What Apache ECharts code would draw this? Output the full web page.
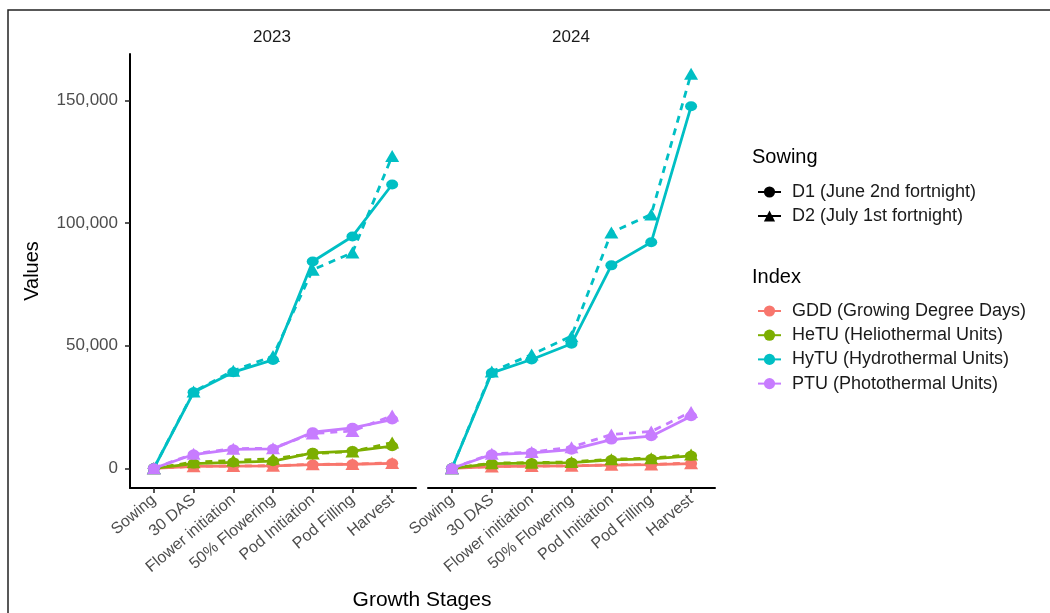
<!DOCTYPE html>
<html>
<head>
<meta charset="utf-8">
<script src="https://cdn.jsdelivr.net/npm/echarts@6/dist/echarts.min.js"></script>
<style>
html,body{margin:0;padding:0;background:#fff;}
#chart{width:1050px;height:613px;}
</style>
</head>
<body>
<div id="chart"></div>
<script>
// ---- Data ----
const stages = ['Sowing','30 DAS','Flower initiation','50% Flowering','Pod Initiation','Pod Filling','Harvest'];
const years = ['2023','2024'];
const sowingNames = ['D1 (June 2nd fortnight)','D2 (July 1st fortnight)'];
const indexNames = ['GDD (Growing Degree Days)','HeTU (Heliothermal Units)','HyTU (Hydrothermal Units)','PTU (Photothermal Units)'];
const yTicks = [0, 50000, 100000, 150000];

// 2023
const gdd2023D1  = [0, 750, 900, 1000, 1500, 1650, 2000];
const gdd2023D2  = [0, 800, 950, 1050, 1600, 1700, 2200];
const hetu2023D1 = [0, 1900, 2400, 2900, 6300, 7000, 9000];
const hetu2023D2 = [0, 2500, 3200, 3900, 6000, 6800, 10500];
const hytu2023D1 = [0, 31000, 39200, 44200, 84400, 94600, 115800];
const hytu2023D2 = [0, 31300, 39800, 45800, 81000, 88000, 127400];
const ptu2023D1  = [0, 5600, 7700, 7900, 14700, 16500, 19900];
const ptu2023D2  = [0, 5900, 8000, 8200, 14200, 15200, 21500];
// 2024
const gdd2024D1  = [0, 700, 850, 950, 1300, 1450, 1900];
const gdd2024D2  = [0, 750, 900, 1000, 1400, 1550, 2100];
const hetu2024D1 = [0, 1900, 2100, 2300, 3400, 3800, 5100];
const hetu2024D2 = [0, 2100, 2300, 2600, 3700, 4100, 5600];
const hytu2024D1 = [0, 38900, 44400, 50800, 82800, 92200, 147700];
const hytu2024D2 = [0, 39500, 46400, 53900, 96200, 103600, 161000];
const ptu2024D1  = [0, 5600, 6300, 7600, 11700, 13100, 21200];
const ptu2024D2  = [0, 5900, 6600, 8600, 13800, 15000, 23000];

// ---- Styles ----
const indexColors = ['#F8766D','#7CAE00','#00BFC4','#C77CFF'];
const FONT = '"Liberation Sans", Arial, Helvetica, sans-serif';

const table = {
  '2023': [[gdd2023D1, gdd2023D2],[hetu2023D1, hetu2023D2],[hytu2023D1, hytu2023D2],[ptu2023D1, ptu2023D2]],
  '2024': [[gdd2024D1, gdd2024D2],[hetu2024D1, hetu2024D2],[hytu2024D1, hytu2024D2],[ptu2024D1, ptu2024D2]]
};

let gMax = 0;
years.forEach(y => table[y].forEach(p => p.forEach(arr => arr.forEach(v => { if (v > gMax) gMax = v; }))));
const pad = gMax * 0.05;

const series = [];
years.forEach((yr, yi) => {
  table[yr].forEach((pair, ii) => {
    pair.forEach((vals, si) => {
      series.push({
        name: indexNames[ii] + ' ' + sowingNames[si] + ' ' + yr,
        type: 'line',
        xAxisIndex: yi,
        yAxisIndex: yi,
        data: vals.map((v, i) => [i, v]),
        symbol: si === 0 ? 'circle' : 'triangle',
        symbolSize: si === 0 ? [12, 10] : [14, 12],
        lineStyle: { color: indexColors[ii], width: 2.8, type: si === 0 ? 'solid' : [7, 6] },
        itemStyle: { color: indexColors[ii] },
        z: 2 + ii,
        emphasis: { disabled: true },
        silent: true
      });
    });
  });
});
// legend-only series
sowingNames.forEach((n, si) => {
  series.push({
    name: n, type: 'line', xAxisIndex: 0, yAxisIndex: 0, data: [],
    symbol: si === 0 ? 'circle' : 'triangle',
    lineStyle: { color: '#000', width: 2.8 },
    itemStyle: { color: '#000' }
  });
});
indexNames.forEach((n, ii) => {
  series.push({
    name: n, type: 'line', xAxisIndex: 0, yAxisIndex: 0, data: [],
    symbol: 'circle',
    lineStyle: { color: indexColors[ii], width: 2.8 },
    itemStyle: { color: indexColors[ii] }
  });
});

const stageIdx = stages.map((s, i) => i);

function xAxis(gi) {
  return {
    type: 'value', gridIndex: gi, min: -0.6, max: stages.length - 1 + 0.6,
    splitLine: { show: false },
    axisLine: { show: true, onZero: false, lineStyle: { color: '#000', width: 2 } },
    axisTick: { show: true, length: 5, customValues: stageIdx, lineStyle: { color: '#222', width: 1.5 } },
    axisLabel: {
      customValues: stageIdx, rotate: 40, margin: 10,
      fontSize: 16, color: '#4d4d4d', fontFamily: FONT,
      formatter: v => stages[Math.round(v)]
    }
  };
}
function yAxis(gi, show) {
  return {
    type: 'value', gridIndex: gi, min: -pad, max: gMax + pad,
    splitLine: { show: false },
    axisLine: { show: show, onZero: false, lineStyle: { color: '#000', width: 2 } },
    axisTick: { show: show, length: 5, customValues: yTicks, lineStyle: { color: '#222', width: 1.5 } },
    axisLabel: {
      show: show, customValues: yTicks, margin: 12,
      fontSize: 17, color: '#4d4d4d', fontFamily: FONT,
      formatter: v => Math.round(v).toLocaleString('en-US')
    }
  };
}

const option = {
  animation: false,
  backgroundColor: '#fff',
  textStyle: { fontFamily: FONT },
  grid: [
    { left: 130, top: 54, width: 286, height: 434 },
    { left: 428, top: 54, width: 287, height: 434 }
  ],
  xAxis: [xAxis(0), xAxis(1)],
  yAxis: [yAxis(0, true), yAxis(1, false)],
  legend: [
    {
      data: sowingNames, orient: 'vertical', left: 752, top: 178,
      itemWidth: 23, itemHeight: 14, itemGap: 6, selectedMode: false,
      textStyle: { fontSize: 18, color: '#1a1a1a', fontFamily: FONT, padding: [0, 0, 0, 6] }
    },
    {
      data: indexNames, orient: 'vertical', left: 752, top: 297,
      itemWidth: 23, itemHeight: 14, itemGap: 6.2, selectedMode: false,
      textStyle: { fontSize: 18, color: '#1a1a1a', fontFamily: FONT, padding: [0, 0, 0, 6] }
    }
  ],
  graphic: [
    { type: 'rect', shape: { x: 8, y: 10, width: 1200, height: 800 }, style: { fill: 'none', stroke: '#222', lineWidth: 1.5 }, silent: true, z: -1 },
    { type: 'text', x: 272, y: 37, style: { text: years[0], font: '17px ' + FONT, fill: '#1a1a1a', align: 'center', verticalAlign: 'middle' } },
    { type: 'text', x: 571, y: 37, style: { text: years[1], font: '17px ' + FONT, fill: '#1a1a1a', align: 'center', verticalAlign: 'middle' } },
    { type: 'text', x: 32, y: 271, rotation: Math.PI / 2, style: { text: 'Values', font: '20px ' + FONT, fill: '#000', align: 'center', verticalAlign: 'middle' } },
    { type: 'text', x: 422, y: 600, style: { text: 'Growth Stages', font: '21px ' + FONT, fill: '#000', align: 'center', verticalAlign: 'middle' } },
    { type: 'text', x: 752, y: 157, style: { text: 'Sowing', font: '20px ' + FONT, fill: '#000', align: 'left', verticalAlign: 'middle' } },
    { type: 'text', x: 752, y: 277, style: { text: 'Index', font: '20px ' + FONT, fill: '#000', align: 'left', verticalAlign: 'middle' } }
  ],
  series: series
};

const chart = echarts.init(document.getElementById('chart'), null, { renderer: 'canvas' });
chart.setOption(option);
</script>
</body>
</html>
